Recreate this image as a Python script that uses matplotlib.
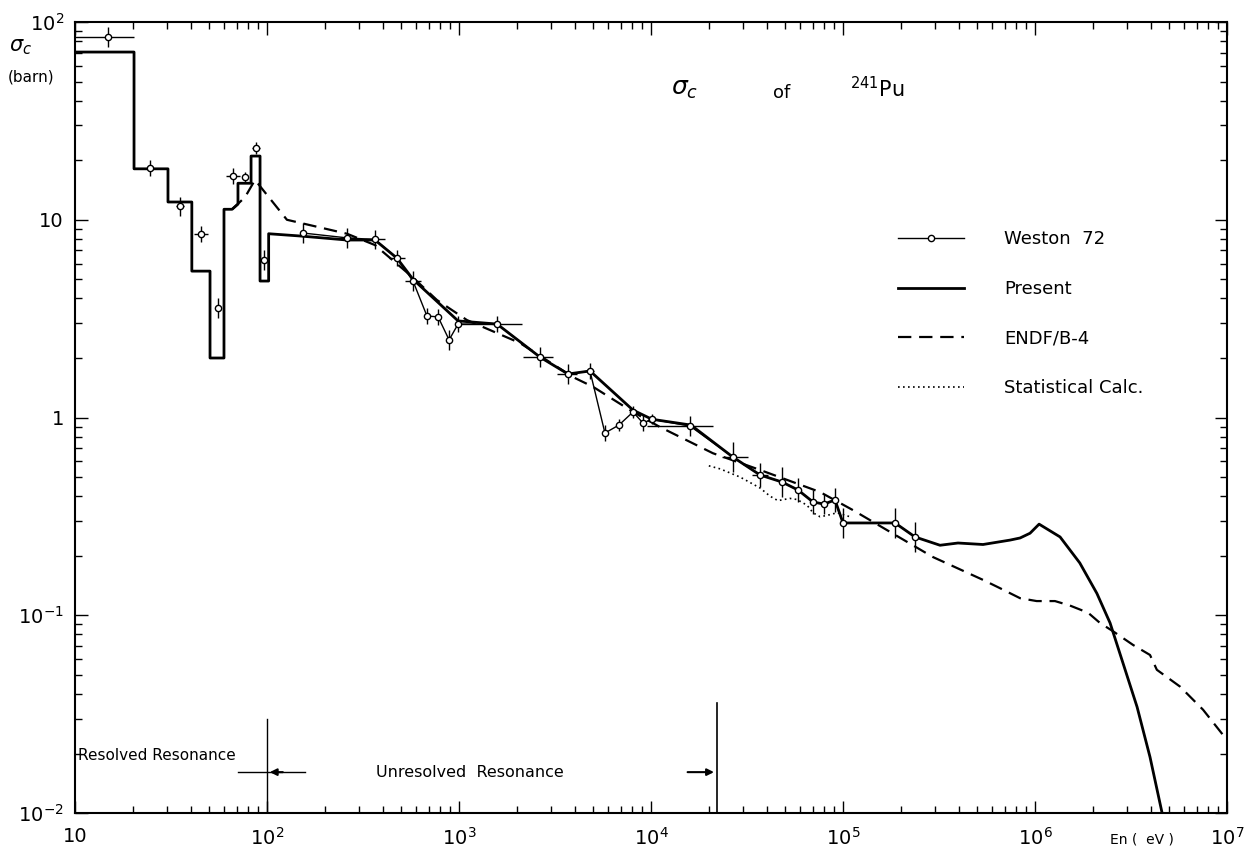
import matplotlib
matplotlib.use("Agg")
import matplotlib.pyplot as plt
import numpy as np
from matplotlib.ticker import FixedLocator, FixedFormatter, LogLocator, NullFormatter

#   Present evaluation (histogram below 100 eV, smooth curve above)
present_e = [10, 20.3, 20.3, 30.5, 30.5, 40.6, 40.6, 50.5, 50.5, 59.7, 59.7, 65.8, 70.6, 70.6,
             82.6, 82.6, 92, 92, 102, 102, 148.6, 261, 365, 475, 576, 989, 1578, 2643, 3697,
             4810, 8060, 10110, 16140, 26700, 37000, 48100, 58300, 69800, 79600, 90800, 100000,
             186600, 237000, 320000, 397000, 536000, 741000, 836000, 942000, 1.05e6, 1.35e6,
             1.71e6, 2.10e6, 2.46e6, 2.87e6, 3.40e6, 3.97e6, 4.58e6]
present_s = [70.5, 70.5, 18.1, 18.1, 12.3, 12.3, 5.5, 5.5, 2.0, 2.0, 11.3, 11.3, 12.0, 15.3,
             15.3, 21, 21, 4.9, 4.9, 8.5, 8.28, 7.9, 7.9, 6.4, 5.0, 3.08, 2.97, 2.02, 1.66,
             1.72, 1.09, 0.98, 0.916, 0.631, 0.512, 0.472, 0.430, 0.374, 0.365, 0.383, 0.293,
             0.293, 0.249, 0.226, 0.232, 0.228, 0.240, 0.246, 0.260, 0.289, 0.249,
             0.184, 0.129, 0.0914, 0.0574, 0.0344, 0.0192, 0.0101]

#   ENDF/B-4
endf_e = [65.8, 76.8, 86.6, 127, 261, 365, 576, 767, 1100, 2080, 3930, 4990, 8060, 11140,
          21000, 37000, 75900, 112800, 169000, 294000, 536000, 658000, 836000, 1.02e6, 1.27e6,
          1.52e6, 1.89e6, 2.18e6, 2.55e6, 3.24e6, 3.97e6, 4.31e6, 5.69e6, 7.5e6, 1e7]
endf_s = [11.3, 13.0, 15.9, 10.0, 8.5, 7.45, 5.1, 3.93, 3.11, 2.38, 1.60, 1.43, 1.067, 0.895,
          0.66, 0.543, 0.42, 0.34, 0.27, 0.197, 0.151, 0.137, 0.122, 0.118, 0.118,
          0.112, 0.103, 0.0914, 0.083, 0.0708, 0.063, 0.053, 0.0436, 0.0333, 0.0234]

#   Statistical calculation
stat_e = [20000, 22900, 29100, 37000, 41700, 45800, 52900, 57600, 65000, 69800, 75900, 82600,
          93100, 108700]
stat_s = [0.57, 0.55, 0.50, 0.44, 0.40, 0.38, 0.39, 0.385, 0.36, 0.33, 0.315, 0.32, 0.33, 0.315]

#   Weston 72 measurement (points below 100 eV are not joined by the line)
weston_e = [14.9, 24.6, 35.2, 45.3, 55.6, 66.5, 76.8, 87.7, 96.4, 154, 261, 365, 475, 576,
            681, 778, 888, 989, 1578, 2643, 3697, 4810, 5754, 6808, 8060, 9080, 10110, 15960,
            26700, 37000, 48100, 58300, 69800, 80000, 90800, 100000, 186600, 237000]
weston_s = [84, 18.3, 11.7, 8.5, 3.58, 16.6, 16.4, 23, 6.26, 8.57, 8.1, 7.95, 6.4, 4.9,
            3.26, 3.23, 2.47, 2.97, 2.97, 2.02, 1.66, 1.72, 0.835, 0.916, 1.067, 0.938, 0.98,
            0.906, 0.631, 0.512, 0.472, 0.43, 0.374, 0.365, 0.383, 0.293, 0.293, 0.249]
weston_rel = [0.12, 0.10, 0.12, 0.10, 0.12, 0.10, 0.06, 0.07, 0.12, 0.12, 0.12, 0.12, 0.10, 0.12,
              0.10, 0.10, 0.12, 0.10, 0.10, 0.12, 0.12, 0.10, 0.10, 0.07, 0.07, 0.10, 0.06,
              0.12, 0.19, 0.15, 0.19, 0.15, 0.15, 0.12, 0.15, 0.19, 0.19, 0.19]
weston_elo = [10, 24.6, 33.6, 41.6, 55.6, 61.1, 76.8, 83.6, 96.4, 154, 237, 324, 432, 524,
              665, 778, 888, 989, 980, 2155, 3240, 4590, 5754, 6808, 8060, 9080, 10110, 9530,
              23400, 33600, 48100, 58300, 69800, 80000, 90800, 100000, 186600, 237000]
weston_ehi = [20.3, 24.6, 36.9, 49.3, 55.6, 72.3, 76.8, 92, 96.4, 154, 287, 411, 522, 634,
              697, 778, 888, 989, 2130, 3090, 4120, 5040, 5754, 6808, 8060, 9080, 10110, 21000,
              32000, 40700, 48100, 58300, 69800, 80000, 90800, 100000, 186600, 237000]
n_unjoined = 9

fig = plt.figure(figsize=(12.54, 8.57), dpi=100)
ax = fig.add_axes([0.0598, 0.0513, 0.9187, 0.923])

we = np.array(weston_e)
ws = np.array(weston_s)
rel = np.array(weston_rel)
xerr = [we - np.array(weston_elo), np.array(weston_ehi) - we]
yerr = [ws - ws / (1 + rel), ws * rel]
ax.errorbar(we, ws, xerr=xerr, yerr=yerr, fmt='none', ecolor='k', elinewidth=1.0, capsize=0)
ax.plot(we[:n_unjoined], ws[:n_unjoined], 'o', ms=4.5, mfc='white', mec='k', mew=1.0, zorder=4)
ax.plot(we[n_unjoined:], ws[n_unjoined:], '-', color='k', lw=1.0, marker='o', ms=4.5,
        mfc='white', mec='k', mew=1.0, label='Weston  72', zorder=4)
ax.plot(present_e, present_s, '-', color='k', lw=2.0, label='Present', zorder=3)
ax.plot(endf_e, endf_s, color='k', lw=1.6, ls=(0, (6, 3.5)), label='ENDF/B-4')
ax.plot(stat_e, stat_s, color='k', lw=1.2, ls=(0, (1, 2)), label='Statistical Calc.')

ax.set_xscale('log')
ax.set_yscale('log')
ax.set_xlim(10, 1e7)
ax.set_ylim(1e-2, 1e2)

ax.xaxis.set_major_locator(FixedLocator([10, 1e2, 1e3, 1e4, 1e5, 1e6, 1e7]))
ax.xaxis.set_major_formatter(FixedFormatter(['10', '$10^2$', '$10^3$', '$10^4$', '$10^5$',
                                             '$10^6$', '$10^7$']))
ax.yaxis.set_major_locator(FixedLocator([1e-2, 1e-1, 1, 10, 1e2]))
ax.yaxis.set_major_formatter(FixedFormatter(['$10^{-2}$', '$10^{-1}$', '1', '10', '$10^2$']))
ax.xaxis.set_minor_locator(LogLocator(base=10, subs=np.arange(2, 10), numticks=20))
ax.yaxis.set_minor_locator(LogLocator(base=10, subs=np.arange(2, 10), numticks=20))
ax.xaxis.set_minor_formatter(NullFormatter())
ax.yaxis.set_minor_formatter(NullFormatter())
ax.tick_params(which='both', direction='in', top=True, right=True, labelsize=14, width=1.0)
ax.tick_params(which='major', length=9)
ax.tick_params(which='minor', length=5)
ax.tick_params(axis='x', pad=10)
ax.tick_params(axis='y', pad=8)
for s in ax.spines.values():
    s.set_linewidth(1.5)

leg = ax.legend(loc='upper left', bbox_to_anchor=(0.70, 0.757), frameon=False, fontsize=13,
                handlelength=3.7, handletextpad=2.2, labelspacing=1.75, numpoints=1)

#   labels
fig.text(0.007, 0.945, r'$\sigma_c$', fontsize=15, ha='left', va='center')
fig.text(0.006, 0.910, '(barn)', fontsize=11, ha='left', va='center')
fig.text(0.885, 0.012, 'En (  eV )', fontsize=10, ha='left', va='bottom')
ax.text(1.5e4, 46, r'$\sigma_c$', fontsize=18, ha='center', va='center')
ax.text(4.8e4, 44, 'of', fontsize=13, ha='center', va='center')
ax.text(1.5e5, 46, r'$^{241}$Pu', fontsize=15, ha='center', va='center')

#   resonance region markers
ax.plot([100, 100], [0.0098, 0.030], color='k', lw=1.0)
ax.plot([2.2e4, 2.2e4], [0.0098, 0.036], color='k', lw=1.2)
ax.text(10.4, 0.0196, 'Resolved Resonance', fontsize=11, ha='left', va='center')
ax.text(1140, 0.0161, 'Unresolved  Resonance', fontsize=11.5, ha='center', va='center')
ax.plot([70.6, 158], [0.0161, 0.0161], color='k', lw=1.0)
ax.annotate('', xy=(100, 0.0161), xytext=(125, 0.0161),
            arrowprops=dict(arrowstyle='-|>', color='k', lw=1.5, mutation_scale=10))
ax.annotate('', xy=(2.2e4, 0.0161), xytext=(1.5e4, 0.0161),
            arrowprops=dict(arrowstyle='-|>', color='k', lw=1.5, mutation_scale=10))

fig.savefig('out.png', dpi=100)
